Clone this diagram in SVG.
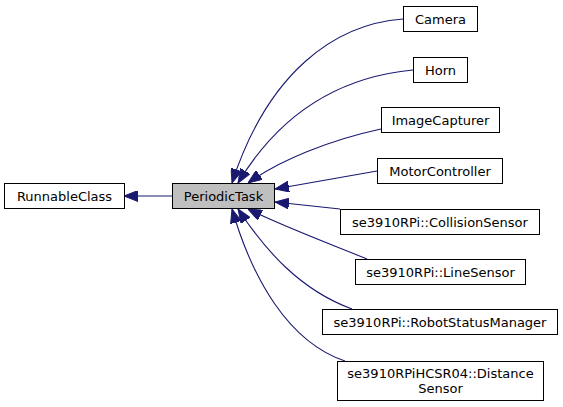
<svg xmlns="http://www.w3.org/2000/svg" width="563" height="407" viewBox="0 0 563 407">
<defs>
<style>
.box{fill:#ffffff;stroke:#000000;stroke-width:1}
.cur{fill:#bfbfbf;stroke:#000000;stroke-width:1}
.lbl{font-family:"DejaVu Sans","Liberation Sans",sans-serif;font-size:13px;fill:#000000;text-anchor:middle}
.edge{fill:none;stroke:#191970;stroke-width:1.1;marker-end:url(#ah)}
</style>
<marker id="ah" markerUnits="userSpaceOnUse" viewBox="0 0 14 11" markerWidth="14" markerHeight="11" refX="14" refY="5.5" orient="auto">
<path d="M0,0 L14,5.5 L0,11 z" fill="#191970" stroke="#191970"/>
</marker>
</defs>
<rect width="563" height="407" fill="#ffffff"/>
<g id="edges">
<path class="edge" d="M172,196 L124,196"/>
<path class="edge" d="M403,19 C335,24 268,72 232,183"/>
<path class="edge" d="M413,70 C350,76 285,105 238,183"/>
<path class="edge" d="M381,129 C330,140 280,160 248,183"/>
<path class="edge" d="M377,171 L275,189"/>
<path class="edge" d="M340,209 L275,202"/>
<path class="edge" d="M367,259 C320,240 280,225 248,209"/>
<path class="edge" d="M352,309 C300,290 265,250 238,209"/>
<path class="edge" d="M345,361 C288,342 252,278 232,209"/>
</g>
<g id="RunnableClass">
<rect class="box" x="4.5" y="183.5" width="120" height="25"/>
<text class="lbl" x="64.5" y="200.5">RunnableClass</text>
</g>
<g id="PeriodicTask">
<rect class="cur" x="172.5" y="183.5" width="102" height="25"/>
<text class="lbl" x="223.5" y="200.5">PeriodicTask</text>
</g>
<g id="Camera">
<rect class="box" x="403.5" y="6.5" width="74" height="25"/>
<text class="lbl" x="440.5" y="23.5">Camera</text>
</g>
<g id="Horn">
<rect class="box" x="413.5" y="57.5" width="54" height="25"/>
<text class="lbl" x="440.5" y="74.5">Horn</text>
</g>
<g id="ImageCapturer">
<rect class="box" x="381.5" y="107.5" width="118" height="25"/>
<text class="lbl" x="440.5" y="124.5">ImageCapturer</text>
</g>
<g id="MotorController">
<rect class="box" x="377.5" y="158.5" width="125" height="25"/>
<text class="lbl" x="440" y="175.5">MotorController</text>
</g>
<g id="CollisionSensor">
<rect class="box" x="340.5" y="209.5" width="199" height="25"/>
<text class="lbl" x="440" y="226.5">se3910RPi::CollisionSensor</text>
</g>
<g id="LineSensor">
<rect class="box" x="355.5" y="259.5" width="170" height="25"/>
<text class="lbl" x="440.5" y="276.5">se3910RPi::LineSensor</text>
</g>
<g id="RobotStatusManager">
<rect class="box" x="322.5" y="309.5" width="235" height="25"/>
<text class="lbl" x="440" y="326.5">se3910RPi::RobotStatusManager</text>
</g>
<g id="DistanceSensor">
<rect class="box" x="337.5" y="361.5" width="206" height="39"/>
<text class="lbl" x="440.5" y="377.5">se3910RPiHCSR04::Distance</text>
<text class="lbl" x="440.5" y="392.5">Sensor</text>
</g>
</svg>
